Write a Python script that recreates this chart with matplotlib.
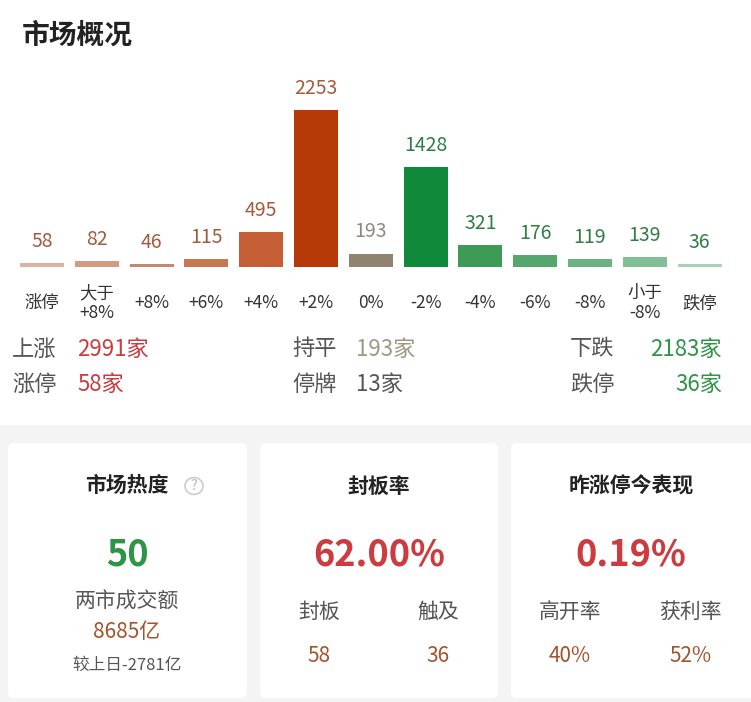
import matplotlib.pyplot as plt
from matplotlib.patches import FancyBboxPatch, Rectangle, Circle

plt.rcParams['font.family'] = ['Noto Sans CJK SC', 'DejaVu Sans']

# DATA
categories = ['涨停', '大于\n+8%', '+8%', '+6%', '+4%', '+2%', '0%',
              '-2%', '-4%', '-6%', '-8%', '小于\n-8%', '跌停']
counts = [58, 82, 46, 115, 495, 2253, 193, 1428, 321, 176, 119, 139, 36]

up_total, flat_total, down_total = 2991, 193, 2183
limit_up, suspended, limit_down = 58, 13, 36

heat = 50
turnover = 8685
turnover_change = -2781
seal_rate = 62.00
sealed, touched = 58, 36
yday_perf = 0.19
high_open_rate, profit_rate = 40, 52

# STYLES
bar_colors = ['#dcb3a3', '#d49a82', '#c8866b', '#c97750', '#c65e35', '#b53a08',
              '#8f8470', '#10893a', '#3d9b57', '#55a76d', '#6bb282', '#82bf94', '#a9d3b5']
label_colors = ['#a45a3c'] * 6 + ['#8c8a80'] + ['#2f7d45'] * 6

W, H = 751, 702
RED = '#cc3b3f'
GREEN = '#2e9447'
BROWN = '#a4532b'
GREY = '#555555'


def px(x, y):
    return x / W, 1 - y / H


def ftext(fig, x, y, s, **kw):
    fx, fy = px(x, y)
    kw.setdefault('va', 'center')
    fig.text(fx, fy, s, **kw)


fig = plt.figure(figsize=(W / 100, H / 100), dpi=100)

# grey lower band and cards
band = Rectangle(px(0, 702), 1, 277 / H, transform=fig.transFigure,
                 facecolor='#f4f4f4', edgecolor='none', zorder=0)
fig.patches.append(band)
for x0, x1 in [(8, 247), (260, 498), (511, 760)]:
    card = FancyBboxPatch(px(x0, 698), (x1 - x0) / W, 255 / H,
                          boxstyle='round,pad=0,rounding_size=0.008',
                          transform=fig.transFigure, facecolor='white',
                          edgecolor='none', zorder=1)
    fig.patches.append(card)

# bars
bottom_px, top_px = 267, 80
ax = fig.add_axes([0, 1 - bottom_px / H, 1, (bottom_px - top_px) / H])
scale = 0.0697
spacing = 54.8
ax.set_xlim(-42 / spacing, (W - 42) / spacing)
ax.set_ylim(0, (bottom_px - top_px) / scale)
xs = list(range(len(counts)))
ax.bar(xs, counts, width=0.8, color=bar_colors)
for x, v, c in zip(xs, counts, label_colors):
    ax.annotate(str(v), (x, v), xytext=(0, 8), textcoords='offset points',
                ha='center', va='bottom', fontsize=14, color=c)
ax.set_xticks(xs)
ax.set_xticklabels(categories, fontsize=12.5, color='#333333', linespacing=1.15)
ax.tick_params(axis='x', length=0, pad=26)
for lbl in ax.get_xticklabels():
    lbl.set_va('center')
ax.set_yticks([])
for s in ax.spines.values():
    s.set_visible(False)
ax.patch.set_alpha(0)

# title
ftext(fig, 22, 36, '市场概况', fontsize=20, fontweight='bold', color='#222222')

# summary rows
ftext(fig, 12, 349, '上涨', fontsize=16, color=GREY)
ftext(fig, 77, 349, f'{up_total}家', fontsize=16, color=RED)
ftext(fig, 292, 349, '持平', fontsize=16, color=GREY)
ftext(fig, 356, 349, f'{flat_total}家', fontsize=16, color='#a09886')
ftext(fig, 570, 349, '下跌', fontsize=16, color=GREY)
ftext(fig, 722, 349, f'{down_total}家', fontsize=16, color=GREEN, ha='right')
ftext(fig, 12, 384, '涨停', fontsize=16, color=GREY)
ftext(fig, 77, 384, f'{limit_up}家', fontsize=16, color=RED)
ftext(fig, 292, 384, '停牌', fontsize=16, color=GREY)
ftext(fig, 356, 384, f'{suspended}家', fontsize=16, color=GREY)
ftext(fig, 570, 384, '跌停', fontsize=16, color=GREY)
ftext(fig, 722, 384, f'{limit_down}家', fontsize=16, color=GREEN, ha='right')

# card 1
ftext(fig, 127, 486, '市场热度', fontsize=15, fontweight='bold', color='#222222', ha='center')
fig.patches.append(Circle(px(194, 486), 9 / W, transform=fig.transFigure,
                          facecolor='none', edgecolor='#cccccc', lw=1.2, zorder=2))
ftext(fig, 194, 486, '?', fontsize=10, color='#bbbbbb', ha='center')
ftext(fig, 127, 555, str(heat), fontsize=26, color=GREEN, ha='center', fontweight='bold')
ftext(fig, 127, 602, '两市成交额', fontsize=15, color=GREY, ha='center')
ftext(fig, 127, 632, f'{turnover}亿', fontsize=15, color=BROWN, ha='center')
ftext(fig, 127, 665, f'较上日{turnover_change}亿', fontsize=12, color=GREY, ha='center')

# card 2
ftext(fig, 379, 486, '封板率', fontsize=15, fontweight='bold', color='#222222', ha='center')
ftext(fig, 379, 555, f'{seal_rate:.2f}%', fontsize=26, color=RED, ha='center', fontweight='bold')
ftext(fig, 319, 612, '封板', fontsize=15, color=GREY, ha='center')
ftext(fig, 438, 612, '触及', fontsize=15, color=GREY, ha='center')
ftext(fig, 319, 656, str(sealed), fontsize=15, color=BROWN, ha='center')
ftext(fig, 438, 656, str(touched), fontsize=15, color=BROWN, ha='center')

# card 3
ftext(fig, 631, 486, '昨涨停今表现', fontsize=15, fontweight='bold', color='#222222', ha='center')
ftext(fig, 631, 555, f'{yday_perf:.2f}%', fontsize=26, color=RED, ha='center', fontweight='bold')
ftext(fig, 570, 612, '高开率', fontsize=15, color=GREY, ha='center')
ftext(fig, 691, 612, '获利率', fontsize=15, color=GREY, ha='center')
ftext(fig, 570, 656, f'{high_open_rate}%', fontsize=15, color=BROWN, ha='center')
ftext(fig, 691, 656, f'{profit_rate}%', fontsize=15, color=BROWN, ha='center')

fig.savefig('out.png', dpi=100)
